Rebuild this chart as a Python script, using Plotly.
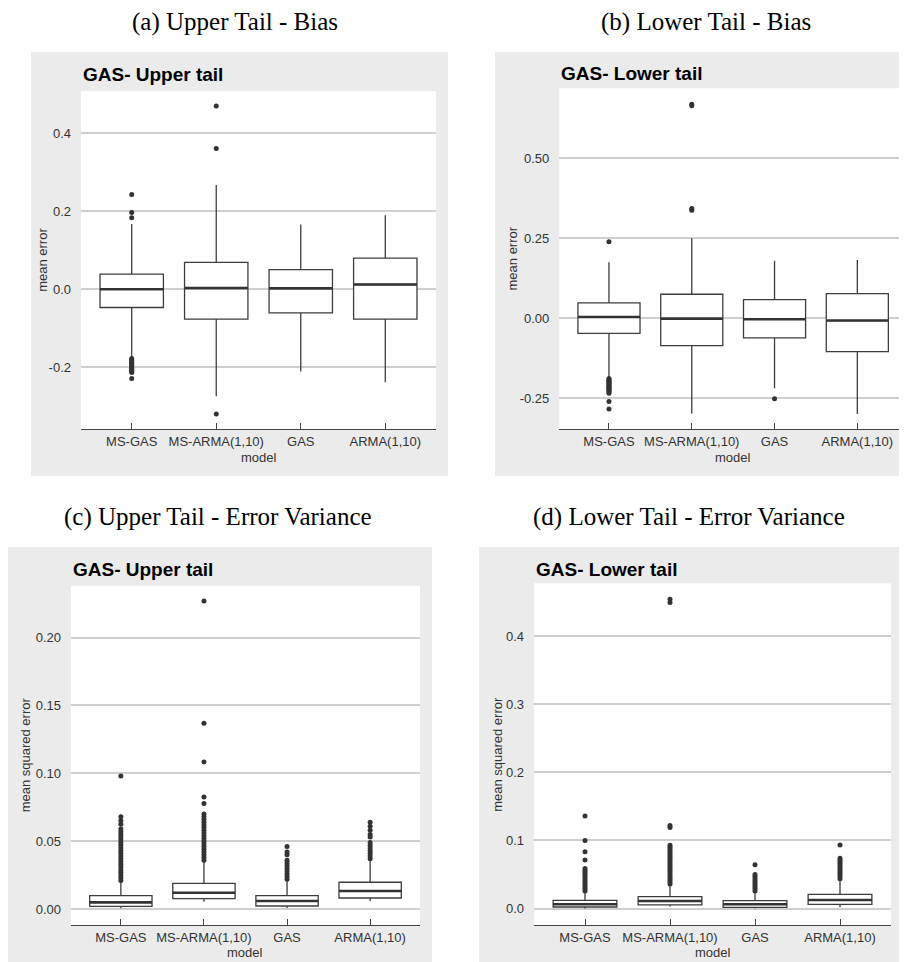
import plotly.graph_objects as go

# page body adds an 8px margin; the figure fills the rest of the 907x962 window
PAGE_W, PAGE_H = 907, 962
OFF = 8
W, H = PAGE_W - OFF, PAGE_H - OFF

models = ["MS-GAS", "MS-ARMA(1,10)", "GAS", "ARMA(1,10)"]

# ---------------- (a) Upper tail - bias ----------------
a_q1 = [-0.047, -0.077, -0.061, -0.077]
a_median = [0.000, 0.0026, 0.002, 0.012]
a_q3 = [0.0385, 0.069, 0.050, 0.0795]
a_lower = [-0.177, -0.275, -0.211, -0.239]
a_upper = [0.1675, 0.2675, 0.166, 0.190]
a_out_msgas = [0.243, 0.197, 0.183, -0.178, -0.181, -0.184, -0.187, -0.190, -0.193,
               -0.196, -0.199, -0.202, -0.205, -0.208, -0.211, -0.214, -0.229]
a_out_msarma = [0.470, 0.361, -0.320]
a_out_gas = []
a_out_arma = []
a_ticks = [-0.2, 0.0, 0.2, 0.4]
a_ticklabels = ["-0.2", "0.0", "0.2", "0.4"]

# ---------------- (b) Lower tail - bias ----------------
b_q1 = [-0.0468, -0.085, -0.061, -0.104]
b_median = [0.004, -0.001, -0.003, -0.007]
b_q3 = [0.0479, 0.075, 0.058, 0.077]
b_lower = [-0.186, -0.297, -0.218, -0.299]
b_upper = [0.175, 0.250, 0.180, 0.182]
b_out_msgas = [0.239, -0.188, -0.191, -0.194, -0.197, -0.200, -0.203, -0.206, -0.209,
               -0.212, -0.215, -0.218, -0.221, -0.224, -0.227, -0.230, -0.234,
               -0.260, -0.283]
b_out_msarma = [0.668, 0.663, 0.343, 0.337]
b_out_gas = [-0.251]
b_out_arma = []
b_ticks = [-0.25, 0.0, 0.25, 0.50]
b_ticklabels = ["-0.25", "0.00", "0.25", "0.50"]

# ---------------- (c) Upper tail - error variance ----------------
c_q1 = [0.0020, 0.0076, 0.0022, 0.0081]
c_median = [0.0049, 0.0120, 0.0059, 0.0133]
c_q3 = [0.0098, 0.0189, 0.0098, 0.0197]
c_lower = [0.0005, 0.0054, 0.0008, 0.0059]
c_upper = [0.0205, 0.0349, 0.0214, 0.0360]
c_out_msgas = [0.021, 0.023, 0.025, 0.027, 0.029, 0.031, 0.033, 0.035, 0.037, 0.039,
               0.041, 0.043, 0.045, 0.047, 0.049, 0.051, 0.053, 0.055, 0.057, 0.059,
               0.0625, 0.065, 0.068, 0.098]
c_out_msarma = [0.036, 0.038, 0.040, 0.042, 0.044, 0.046, 0.048, 0.050, 0.052, 0.054,
                0.056, 0.058, 0.060, 0.062, 0.064, 0.066, 0.068, 0.070, 0.0777,
                0.0826, 0.1084, 0.137, 0.227]
c_out_gas = [0.022, 0.024, 0.026, 0.028, 0.030, 0.032, 0.034, 0.036, 0.040, 0.042, 0.046]
c_out_arma = [0.037, 0.039, 0.041, 0.043, 0.045, 0.047, 0.049, 0.053, 0.055, 0.058,
              0.061, 0.064]
c_ticks = [0.00, 0.05, 0.10, 0.15, 0.20]
c_ticklabels = ["0.00", "0.05", "0.10", "0.15", "0.20"]

# ---------------- (d) Lower tail - error variance ----------------
d_q1 = [0.0024, 0.0054, 0.0020, 0.0064]
d_median = [0.0064, 0.0112, 0.0064, 0.0127]
d_q3 = [0.0122, 0.0176, 0.0117, 0.0210]
d_lower = [0.0002, 0.0030, 0.0002, 0.0020]
d_upper = [0.025, 0.035, 0.025, 0.043]
d_out_msgas = [0.026, 0.029, 0.032, 0.035, 0.038, 0.041, 0.044, 0.047, 0.050, 0.053,
               0.056, 0.059, 0.0714, 0.0836, 0.0998, 0.136]
d_out_msarma = [0.036, 0.039, 0.042, 0.045, 0.048, 0.051, 0.054, 0.057, 0.060, 0.063,
                0.066, 0.069, 0.072, 0.075, 0.078, 0.081, 0.084, 0.087, 0.090, 0.093,
                0.119, 0.122, 0.449, 0.454]
d_out_gas = [0.026, 0.029, 0.032, 0.035, 0.038, 0.041, 0.044, 0.047, 0.050, 0.0645]
d_out_arma = [0.044, 0.047, 0.050, 0.053, 0.056, 0.059, 0.062, 0.065, 0.068, 0.071,
              0.074, 0.0934]
d_ticks = [0.0, 0.1, 0.2, 0.3, 0.4]
d_ticklabels = ["0.0", "0.1", "0.2", "0.3", "0.4"]

captions = ["(a) Upper Tail - Bias", "(b) Lower Tail - Bias",
            "(c) Upper Tail - Error Variance", "(d) Lower Tail - Error Variance"]
titles = ["GAS- Upper tail", "GAS- Lower tail", "GAS- Upper tail", "GAS- Lower tail"]
ytitles = ["mean error", "mean error", "mean squared error", "mean squared error"]
xtitle = "model"

data = [
    (a_q1, a_median, a_q3, a_lower, a_upper, [a_out_msgas, a_out_msarma, a_out_gas, a_out_arma], a_ticks, a_ticklabels),
    (b_q1, b_median, b_q3, b_lower, b_upper, [b_out_msgas, b_out_msarma, b_out_gas, b_out_arma], b_ticks, b_ticklabels),
    (c_q1, c_median, c_q3, c_lower, c_upper, [c_out_msgas, c_out_msarma, c_out_gas, c_out_arma], c_ticks, c_ticklabels),
    (d_q1, d_median, d_q3, d_lower, d_upper, [d_out_msgas, d_out_msarma, d_out_gas, d_out_arma], d_ticks, d_ticklabels),
]

# ---------------- layout geometry (window pixels) ----------------
geom = [
    dict(gray=(31, 52, 448, 476), plot=(81, 91, 436, 429.3), yr=(-0.3595, 0.5085),
         cap=(235, 22), title_y=75, ytx=41.7, xt_y=457.3),
    dict(gray=(495, 52, 907, 476), plot=(559.3, 88.3, 907, 429.3), yr=(-0.3464, 0.7178),
         cap=(706, 22), title_y=74, ytx=512.7, xt_y=457.3),
    dict(gray=(8, 547, 432, 962), plot=(71, 585.7, 420, 925), yr=(-0.0118, 0.2383),
         cap=(218, 517), title_y=569, ytx=25, xt_y=952.7),
    dict(gray=(479, 547, 907, 962), plot=(534, 583.3, 891, 925), yr=(-0.024, 0.4773),
         cap=(689, 517), title_y=569, ytx=496.7, xt_y=952.7),
]

def px(x):
    return (x - OFF) / W

def py(y):
    return 1 - (y - OFF) / H

BOXW = 0.75
DARK = "#333333"
FONT = "Liberation Sans, Arial, sans-serif"

fig = go.Figure()
shapes = []
annotations = []
layout = {}

for i, (g, d) in enumerate(zip(geom, data)):
    q1, med, q3, lo, up, outs, ticks, ticklabels = d
    n = "" if i == 0 else str(i + 1)
    xa, ya = "x" + n, "y" + n
    pos = list(range(len(models)))

    fig.add_trace(go.Box(
        x=pos, q1=q1, median=med, q3=q3, lowerfence=lo, upperfence=up,
        width=BOXW, whiskerwidth=0, fillcolor="white", boxpoints=False,
        line=dict(color="#3d3d3d", width=1.3),
        xaxis=xa, yaxis=ya, showlegend=False, hoverinfo="skip"))

    mx, my = [], []
    for p, m in zip(pos, med):
        mx += [p - BOXW / 2, p + BOXW / 2, None]
        my += [m, m, None]
    fig.add_trace(go.Scatter(x=mx, y=my, mode="lines",
                             line=dict(color=DARK, width=2.6),
                             xaxis=xa, yaxis=ya, showlegend=False, hoverinfo="skip"))

    ox, oy = [], []
    for p, vals in zip(pos, outs):
        ox += [p] * len(vals)
        oy += list(vals)
    fig.add_trace(go.Scatter(x=ox, y=oy, mode="markers",
                             marker=dict(size=5, color=DARK),
                             xaxis=xa, yaxis=ya, showlegend=False, hoverinfo="skip"))

    x0, y0, x1, y1 = g["plot"]
    layout["xaxis" + n] = dict(
        domain=[px(x0), min(1.0, px(x1))], anchor=ya, range=[-0.6, 3.6],
        tickvals=pos, ticktext=models, showgrid=False, zeroline=False,
        showline=True, linecolor="#444444", linewidth=1.2,
        ticks="inside", ticklen=6, tickcolor="#444444", tickwidth=1.2,
        tickfont=dict(family=FONT, size=13, color=DARK), ticklabelstandoff=0)
    layout["yaxis" + n] = dict(
        domain=[py(y1), py(y0)], anchor=xa, range=list(g["yr"]),
        tickvals=ticks, ticktext=ticklabels, showgrid=True, gridcolor="#CFCFCF",
        gridwidth=1.6, zeroline=False, showline=False, ticks="",
        tickfont=dict(family=FONT, size=13, color=DARK), ticklabelstandoff=9)

    gx0, gy0, gx1, gy1 = g["gray"]
    shapes.append(dict(type="rect", xref="paper", yref="paper", layer="below",
                       x0=px(gx0), x1=px(gx1), y0=py(gy1), y1=py(gy0),
                       fillcolor="#EBEBEB", line=dict(width=0)))
    shapes.append(dict(type="rect", xref="paper", yref="paper", layer="below",
                       x0=px(x0), x1=px(x1), y0=py(y1), y1=py(y0),
                       fillcolor="white", line=dict(width=0)))

    annotations.append(dict(text=captions[i], xref="paper", yref="paper",
                            x=px(g["cap"][0]), y=py(g["cap"][1]),
                            xanchor="center", yanchor="middle", showarrow=False,
                            font=dict(family="Liberation Serif, Times New Roman, serif",
                                      size=25, color="black")))
    annotations.append(dict(text="<b>" + titles[i] + "</b>", xref="paper", yref="paper",
                            x=px(x0), y=py(g["title_y"]), xanchor="left", yanchor="middle",
                            showarrow=False, font=dict(family=FONT, size=19, color="black")))
    annotations.append(dict(text=ytitles[i], xref="paper", yref="paper",
                            x=px(g["ytx"]), y=py((y0 + y1) / 2), textangle=-90,
                            xanchor="center", yanchor="middle", showarrow=False,
                            font=dict(family=FONT, size=13, color=DARK)))
    annotations.append(dict(text=xtitle, xref="paper", yref="paper",
                            x=px((x0 + min(x1, PAGE_W)) / 2), y=py(g["xt_y"]),
                            xanchor="center", yanchor="middle", showarrow=False,
                            font=dict(family=FONT, size=13, color=DARK)))

fig.update_layout(
    width=W, height=H, margin=dict(l=0, r=0, t=0, b=0),
    paper_bgcolor="white", plot_bgcolor="white",
    shapes=shapes, annotations=annotations, showlegend=False,
    **layout)

fig.write_html("out.html")
